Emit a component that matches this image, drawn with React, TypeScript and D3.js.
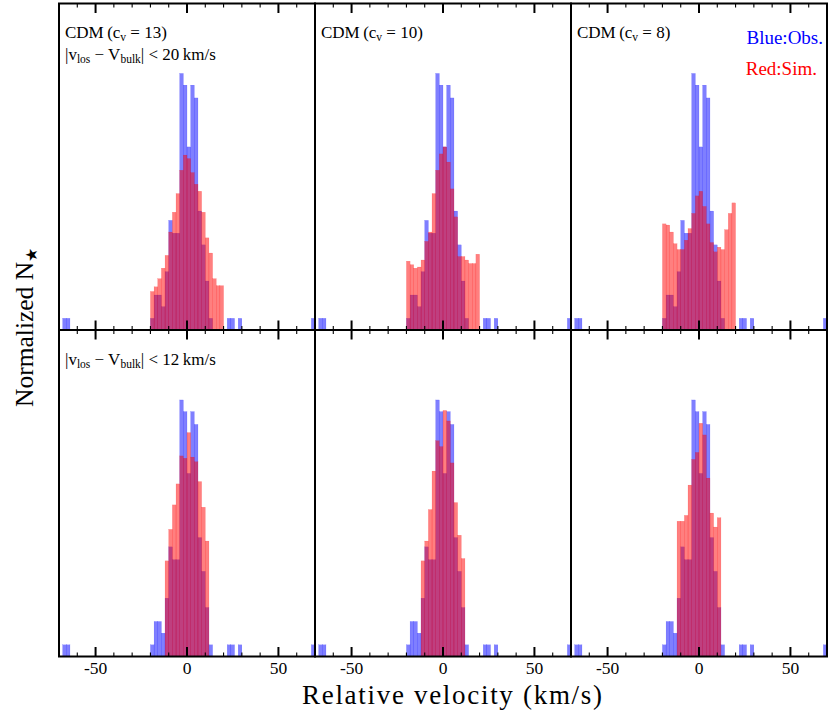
import React from "react";
import * as d3 from "d3";

// left edges of the 2 km/s bins around the systemic velocity
const binStarts = [-20, -18, -16, -14, -12, -10, -8, -6, -4, -2, 0, 2, 4, 6, 8, 10, 12, 14, 16, 18];

// observed stars (same in every panel)
const obsCore = [1, 3, 3, 2, 5, 9.4, 8.3, 8.3, 22, 21, 15.7, 21, 19.9, 10.2, 7.3, 4.2, 1, 0, 0, 0];
const obsTailBins = [-68, -66, 22, 24, 28, 68];
const obsTailCounts = [1, 1, 1, 1, 1, 1];

// simulated stars, |v| < 20 km/s (top row)
const simWide13 = [3.3, 3.7, 4.4, 5.3, 6.4, 8.4, 10.1, 11.7, 13.7, 15.0, 14.7, 13.5, 12.5, 11.9, 10.1, 7.9, 6.6, 4.4, 3.8, 3.8];
const simWide10 = [5.9, 5.6, 5.3, 5.4, 6.0, 7.6, 8.4, 11.7, 13.7, 15.1, 15.7, 14.4, 12.1, 9.7, 6.3, 6.3, 6.0, 5.7, 5.7, 6.5];
const simWide8 = [9.1, 9.0, 8.4, 7.4, 6.9, 6.9, 7.7, 8.7, 10.0, 11.5, 11.9, 10.6, 9.1, 7.5, 6.7, 7.1, 6.9, 8.6, 10.0, 10.9];

// simulated stars, |v| < 12 km/s (bottom row)
const simNarrow13 = [0, 0, 0, 0, 8.2, 10.9, 13.0, 14.8, 17.2, 17.0, 19.2, 17.1, 16.7, 15.0, 12.8, 9.9, 0, 0, 0, 0];
const simNarrow10 = [0, 0, 0, 0, 8.2, 9.9, 12.6, 15.9, 18.5, 18.0, 21.1, 20.2, 16.6, 13.2, 10.4, 8.4, 0, 0, 0, 0];
const simNarrow8 = [0, 0, 0, 0, 11.6, 11.6, 12.1, 14.7, 16.9, 17.5, 20.0, 19.0, 15.3, 12.3, 11.1, 11.9, 0, 0, 0, 0];

const concentrations = ["13", "10", "8"];
const simRows = [
  [simWide13, simWide10, simWide8],
  [simNarrow13, simNarrow10, simNarrow8],
];
const cutLabels = ["20", "12"];
const majorTicks = [-50, 0, 50];
const minorTicks = [-60, -40, -30, -20, -10, 10, 20, 30, 40, 60];

const BIN = 2;
const PANEL_X0 = 59;
const PANEL_W = 256;
const ROW_TOPS = [3.5, 330];
const ROW_H = 326.5;
const FONT = "'Liberation Serif', 'Times New Roman', serif";
const BLUE = "rgba(0,0,255,0.5)";
const RED = "rgba(255,0,0,0.5)";

const Bars = ({ starts, values, x, y, fill }) => (
  <g>
    {starts.map((s, i) =>
      values[i] > 0 ? (
        <rect
          key={i}
          x={x(s)}
          y={y(values[i])}
          width={x(s + BIN) - x(s)}
          height={y(0) - y(values[i])}
          fill={fill}
          stroke={fill}
          strokeWidth={0.25}
        />
      ) : null
    )}
  </g>
);

const Panel = ({ row, col }) => {
  const left = PANEL_X0 + col * PANEL_W;
  const top = ROW_TOPS[row];
  const bottom = top + ROW_H;
  const x = d3.scaleLinear().domain([-70, 70]).range([left, left + PANEL_W]);
  const y = d3.scaleLinear().domain([0, 28]).range([bottom, top]);
  const sim = simRows[row][col];
  const sub = { fontSize: 11.5 };

  return (
    <g>
      <Bars starts={binStarts} values={obsCore} x={x} y={y} fill={BLUE} />
      <Bars starts={obsTailBins} values={obsTailCounts} x={x} y={y} fill={BLUE} />
      <Bars starts={binStarts} values={sim} x={x} y={y} fill={RED} />

      {[...majorTicks, ...minorTicks].map((t) => {
        const len = majorTicks.includes(t) ? 9.5 : 4;
        const w = majorTicks.includes(t) ? 2 : 1.1;
        return (
          <g key={t} stroke="#000" strokeWidth={w}>
            <line x1={x(t)} x2={x(t)} y1={bottom} y2={bottom - len} />
            <line x1={x(t)} x2={x(t)} y1={top} y2={top + len} />
          </g>
        );
      })}
      <rect x={left} y={top} width={PANEL_W} height={ROW_H} fill="none" stroke="#000" strokeWidth={2} />

      {row === 0 && (
        <text x={left + 6} y={top + 34} fontSize={17} fontFamily={FONT}>
          CDM{"\u2009"}(c
          <tspan dy={3} style={sub}>v</tspan>
          <tspan dy={-3}>{` = ${concentrations[col]})`}</tspan>
        </text>
      )}
      {col === 0 && (
        <text x={left + 6} y={top + (row === 0 ? 56.5 : 35)} fontSize={17} fontFamily={FONT}>
          |v
          <tspan dy={3} style={sub}>los</tspan>
          <tspan dy={-3}>{" \u2212 V"}</tspan>
          <tspan dy={3} style={sub}>bulk</tspan>
          <tspan dy={-3}>{`| < ${cutLabels[row]}\u2009km/s`}</tspan>
        </text>
      )}
      {row === 1 &&
        majorTicks.map((t) => (
          <text key={t} x={x(t)} y={673.5} fontSize={17.5} fontFamily={FONT} textAnchor="middle">
            {t}
          </text>
        ))}
    </g>
  );
};

export default function App() {
  const cells = [];
  for (let r = 0; r < 2; r++) for (let c = 0; c < 3; c++) cells.push([r, c]);
  return (
    <svg
      width={831}
      height={714}
      style={{ position: "absolute", left: 0, top: 0, background: "#fff" }}
    >
      {cells.map(([r, c]) => (
        <Panel key={`${r}-${c}`} row={r} col={c} />
      ))}
      <text x={823} y={44} fontSize={19} fontFamily={FONT} fill="#0000ff" textAnchor="end">
        Blue:Obs.
      </text>
      <text x={817} y={75} fontSize={19} fontFamily={FONT} fill="#ff0000" textAnchor="end">
        Red:Sim.
      </text>
      <text x={302} y={704} fontSize={27} fontFamily={FONT} textLength={300} lengthAdjust="spacing">
        Relative velocity (km/s)
      </text>
      <text transform="translate(33,407) rotate(-90)" fontSize={25.5} fontFamily={FONT}>
        Normalized N
        <tspan dy={4} fontSize={16}>★</tspan>
      </text>
    </svg>
  );
}
